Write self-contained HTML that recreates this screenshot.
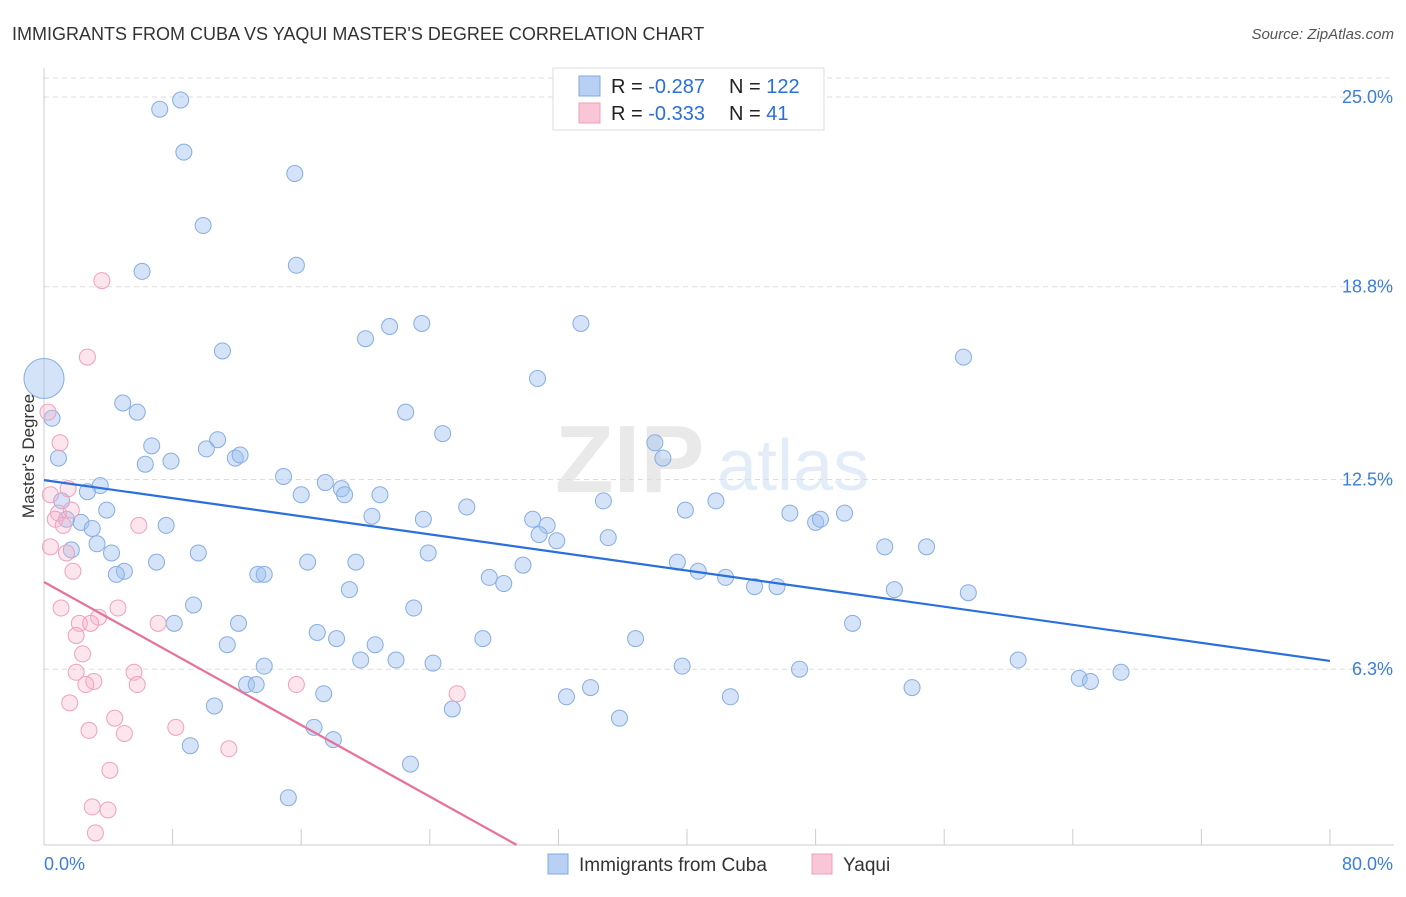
<!DOCTYPE html>
<html><head><meta charset="utf-8"><style>
body{margin:0;background:#fff;font-family:"Liberation Sans",sans-serif;}
svg text{font-family:"Liberation Sans",sans-serif;}
</style></head><body>
<svg id="chart" width="1406" height="892" viewBox="0 0 1406 892" xmlns="http://www.w3.org/2000/svg">
<text x="12" y="40" font-size="18" fill="#333">IMMIGRANTS FROM CUBA VS YAQUI MASTER'S DEGREE CORRELATION CHART</text>
<text x="1394" y="39" font-size="15" fill="#555" font-style="italic" text-anchor="end">Source: ZipAtlas.com</text>
<g opacity="0.18">
<text x="555" y="492" font-size="96" font-family="Liberation Serif" fill="#888" font-weight="bold">ZIP</text>
<text x="717" y="490" font-size="72" fill="#6a9ee0">atlas</text>
</g>
<g id="grid"></g>
<g id="axes"></g>
<g id="marks"></g>
<text transform="translate(34,456) rotate(-90)" font-size="17" fill="#333" text-anchor="middle">Master's Degree</text>
<g>
<rect x="553" y="68" width="271" height="62" fill="#fff" stroke="#ddd"/>
<rect x="579" y="76" width="21" height="20" fill="#b8d0f3" stroke="#7fa8e0"/>
<rect x="579" y="103" width="21" height="20" fill="#f8c6d6" stroke="#f0a0bb"/>
<text x="611" y="93" font-size="20" fill="#222">R = <tspan fill="#2a6fdb">-0.287</tspan></text>
<text x="729" y="93" font-size="20" fill="#222">N = <tspan fill="#2a6fdb">122</tspan></text>
<text x="611" y="120" font-size="20" fill="#222">R = <tspan fill="#2a6fdb">-0.333</tspan></text>
<text x="729" y="120" font-size="20" fill="#222">N = <tspan fill="#2a6fdb">  41</tspan></text>
</g>
<g>
<rect x="548" y="854" width="20" height="20" fill="#b8d0f3" stroke="#7fa8e0"/>
<text x="579" y="871" font-size="19" fill="#333">Immigrants from Cuba</text>
<rect x="812" y="854" width="20" height="20" fill="#f8c6d6" stroke="#f0a0bb"/>
<text x="843" y="871" font-size="19" fill="#333">Yaqui</text>
</g>
</svg>
<script>
const yTicks=[25.0,18.8,12.5,6.3];
const yTickLabels=["25.0%","18.8%","12.5%","6.3%"];
const xTickValues=[0,8,16,24,32,40,48,56,64,72,80];
const xEndLabels=["0.0%","80.0%"];
const cubaX=[8.5,7.2,8.7,15.6,9.9,6.1,15.7,33.4,23.5,21.5,20.0,11.1,57.2,5.3,30.7,4.9,5.8,22.5,0.5,24.8,6.7,10.8,10.1,38.0,0.9,6.3,7.9,11.9,12.2,38.5,14.9,17.5,18.5,18.7,20.9,16.0,3.5,2.7,1.1,3.9,1.4,2.3,3.0,7.6,20.4,23.6,26.3,30.4,31.3,30.8,31.9,34.8,35.1,39.9,41.8,46.4,48.0,48.3,49.8,3.3,1.7,4.2,9.6,23.9,52.3,54.9,7.0,16.4,19.4,29.8,39.4,5.0,4.5,13.3,13.7,27.7,28.6,40.7,42.4,44.2,45.6,19.0,52.9,57.5,9.3,23.0,8.1,12.1,50.3,17.0,18.2,27.3,36.8,11.4,20.6,19.7,21.9,24.2,13.7,39.7,47.0,60.6,67.0,12.6,13.2,17.4,34.0,54.0,64.4,65.1,32.5,42.7,10.6,25.4,35.8,16.8,18.0,9.1,22.8,15.2];
const cubaY=[24.9,24.6,23.2,22.5,20.8,19.3,19.5,17.6,17.6,17.5,17.1,16.7,16.5,15.9,15.8,15.0,14.7,14.7,14.5,14.0,13.6,13.8,13.5,13.7,13.2,13.0,13.1,13.2,13.3,13.2,12.6,12.4,12.2,12.0,12.0,12.0,12.3,12.1,11.8,11.5,11.2,11.1,10.9,11.0,11.3,11.2,11.6,11.2,11.0,10.7,10.5,11.8,10.6,11.5,11.8,11.4,11.1,11.2,11.4,10.4,10.2,10.1,10.1,10.1,10.3,10.3,9.8,9.8,9.8,9.7,9.8,9.5,9.4,9.4,9.4,9.3,9.1,9.5,9.3,9.0,9.0,8.9,8.9,8.8,8.4,8.3,7.8,7.8,7.8,7.5,7.3,7.3,7.3,7.1,7.1,6.6,6.6,6.5,6.4,6.4,6.3,6.6,6.2,5.8,5.8,5.5,5.7,5.7,6.0,5.9,5.4,5.4,5.1,5.0,4.7,4.4,4.0,3.8,3.2,2.1];
const yaquiX=[3.6,2.7,0.25,1.0,1.5,0.4,0.9,1.7,0.7,1.2,5.9,0.4,1.4,1.8,1.06,4.6,3.4,2.2,2.9,7.1,2.0,2.4,2.0,5.6,3.1,2.6,5.8,15.7,25.7,1.6,4.4,2.8,8.2,5.0,11.5,4.1,3.0,3.98,3.2];
const yaquiY=[19.0,16.5,14.7,13.7,12.2,12.0,11.4,11.5,11.2,11.0,11.0,10.3,10.1,9.5,8.3,8.3,8.0,7.8,7.8,7.8,7.4,6.8,6.2,6.2,5.9,5.8,5.8,5.8,5.5,5.2,4.7,4.3,4.4,4.2,3.7,3.0,1.8,1.7,0.95];
const cubaTrend=[12.48,6.57];
const yaquiTrend=[9.15,0.56,29.4];

const NS="http://www.w3.org/2000/svg";
const X0=44,X1=1330,YTOP=68,YBOT=845;
function sx(v){return X0+(X1-X0)*v/80;}
function sy(v){return 862-v*30.6;}
function mk(tag,attrs,parent){const e=document.createElementNS(NS,tag);for(const k in attrs)e.setAttribute(k,attrs[k]);parent.appendChild(e);return e;}
const grid=document.getElementById('grid'),axes=document.getElementById('axes'),marks=document.getElementById('marks');
let gl=mk('line',{x1:X0,x2:1394,y1:78,y2:78,stroke:'#ddd','stroke-dasharray':'5,4'},grid);


yTicks.forEach((t,i)=>{
  const l=mk('line',{x1:X0,x2:1394,y1:sy(t),y2:sy(t),stroke:'#ddd','stroke-dasharray':'5,4'},grid);
  
  
  const tx=mk('text',{x:1393,y:sy(t)+6,'font-size':18,fill:'#3b7ddd','text-anchor':'end'},axes);
  tx.textContent=yTickLabels[i];
  
  
});
let ax=mk('line',{x1:X0,x2:X0,y1:YTOP,y2:YBOT,stroke:'#ccc'},axes);


let bx=mk('line',{x1:X0,x2:1394,y1:YBOT,y2:YBOT,stroke:'#ccc'},axes);


xTickValues.forEach(v=>{
  const t=mk('line',{x1:sx(v),x2:sx(v),y1:YBOT,y2:YBOT-16,stroke:'#ccc'},axes);
  
  
});
let xl=mk('text',{x:44,y:870,'font-size':18,fill:'#3b7ddd'},axes);xl.textContent=xEndLabels[0];


let xr=mk('text',{x:1393,y:870,'font-size':18,fill:'#3b7ddd','text-anchor':'end'},axes);xr.textContent=xEndLabels[1];


cubaX.forEach((v,i)=>{
  const c=mk('circle',{cx:sx(v),cy:sy(cubaY[i]),r:(i==13?0:8),fill:'rgba(160,192,238,0.45)',stroke:'#86ade3','stroke-width':1},marks);
  
  
});
let big=mk('circle',{cx:sx(0),cy:sy(15.8),r:20,fill:'rgba(160,192,238,0.45)',stroke:'#86ade3'},marks);


yaquiX.forEach((v,i)=>{
  const c=mk('circle',{cx:sx(v),cy:sy(yaquiY[i]),r:8,fill:'rgba(246,180,204,0.35)',stroke:'#f0a0bb','stroke-width':1},marks);
  
  
});
let tl=mk('line',{x1:sx(0),y1:sy(cubaTrend[0]),x2:sx(80),y2:sy(cubaTrend[1]),stroke:'#2a6fdb','stroke-width':2.2},marks);


let pl=mk('line',{x1:sx(0),y1:sy(yaquiTrend[0]),x2:sx(yaquiTrend[2]),y2:sy(yaquiTrend[1]),stroke:'#e8709a','stroke-width':2.2},marks);


</script>
</body></html>
